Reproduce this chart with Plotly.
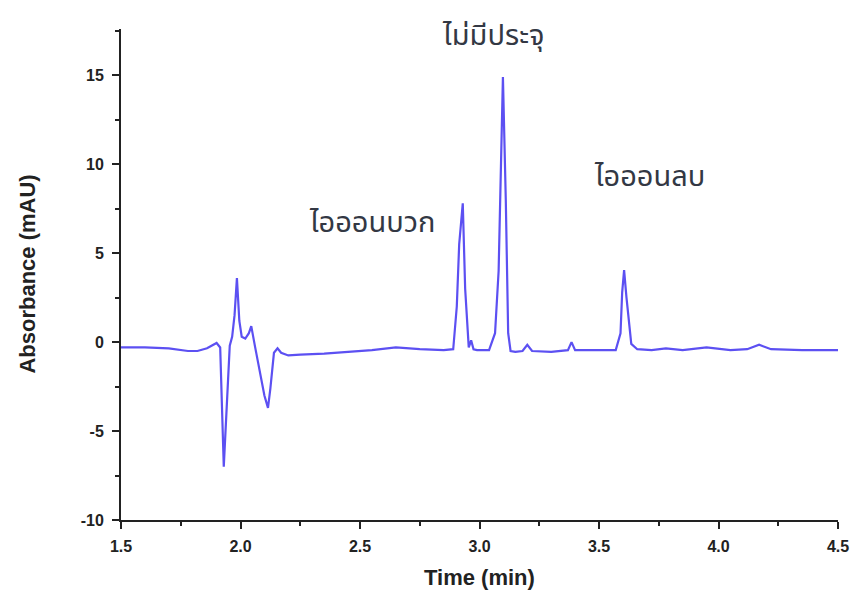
import plotly.graph_objects as go

# Electropherogram trace: time (min) vs absorbance (mAU)
time_min = [1.50, 1.60, 1.70, 1.78, 1.82, 1.86, 1.90, 1.915, 1.93, 1.945, 1.955, 1.965, 1.975,
            1.985, 1.995, 2.005, 2.02, 2.035, 2.045, 2.06, 2.08, 2.10, 2.115, 2.125, 2.14, 2.155,
            2.17, 2.20, 2.25, 2.35, 2.45, 2.55, 2.65, 2.75, 2.85, 2.89, 2.905, 2.915, 2.93, 2.94,
            2.955, 2.965, 2.975, 2.99, 3.04, 3.065, 3.08, 3.09, 3.098, 3.11, 3.12, 3.13, 3.15, 3.18,
            3.20, 3.22, 3.30, 3.37, 3.385, 3.40, 3.50, 3.57, 3.59, 3.597, 3.605, 3.615, 3.635, 3.66,
            3.72, 3.78, 3.85, 3.95, 4.05, 4.12, 4.17, 4.22, 4.35, 4.50]
absorbance = [-0.30, -0.30, -0.35, -0.50, -0.50, -0.35, -0.05, -0.3, -7.0, -2.5, -0.2, 0.3, 1.5,
              3.6, 1.2, 0.3, 0.2, 0.5, 0.9, -0.2, -1.6, -3.0, -3.7, -2.6, -0.6, -0.35,
              -0.6, -0.75, -0.7, -0.65, -0.55, -0.45, -0.3, -0.4, -0.45, -0.4, 2.0, 5.5, 7.8, 3.0,
              -0.3, 0.1, -0.4, -0.45, -0.45, 0.5, 4.0, 9.5, 14.9, 8.0, 0.5, -0.5, -0.55, -0.5,
              -0.15, -0.5, -0.55, -0.45, 0.0, -0.45, -0.45, -0.45, 0.5, 2.8, 4.05, 2.5, -0.1, -0.4,
              -0.45, -0.35, -0.45, -0.3, -0.45, -0.4, -0.15, -0.4, -0.45, -0.45]

# Peak labels
peak_labels = ["ไอออนบวก", "ไม่มีประจุ", "ไอออนลบ"]
label_x = [2.55, 3.056, 3.71]
label_y = [6.7, 17.2, 9.3]

x_ticks = [1.5, 2.0, 2.5, 3.0, 3.5, 4.0, 4.5]
y_ticks = [-10, -5, 0, 5, 10, 15]

tick_font = dict(family="Liberation Sans, Arial, sans-serif", size=16, color="#222222")
title_font = dict(family="Liberation Sans, Arial, sans-serif", size=22, color="#222222")

fig = go.Figure()
fig.add_trace(go.Scatter(x=time_min, y=absorbance, mode="lines",
                         line=dict(color="#5c50f2", width=2.2), showlegend=False))

for txt, lx, ly in zip(peak_labels, label_x, label_y):
    fig.add_annotation(x=lx, y=ly, xref="x", yref="y", text=txt, showarrow=False,
                       font=dict(family="Noto Sans Thai, Noto Sans, Tahoma, sans-serif",
                                 size=29, color="#333844"))

# Axis titles
fig.add_annotation(x=-0.131, y=0.5, xref="paper", yref="paper", text="<b>Absorbance (mAU)</b>",
                   textangle=-90, showarrow=False, xanchor="center", yanchor="middle",
                   font=title_font)
fig.add_annotation(x=0.5, y=-0.118, xref="paper", yref="paper", text="<b>Time (min)</b>",
                   showarrow=False, xanchor="center", yanchor="middle", font=title_font)

axis_common = dict(showline=True, linecolor="#222222", linewidth=2, ticks="outside",
                   tickcolor="#222222", tickwidth=2, ticklen=7, showgrid=False,
                   zeroline=False, mirror=False, automargin=False)

fig.update_xaxes(range=[1.5, 4.5], tickvals=x_ticks,
                 ticktext=[f"<b>{v:.1f}</b>" for v in x_ticks], tickfont=tick_font,
                 ticklabelstandoff=4,
                 minor=dict(dtick=0.25, ticks="outside", ticklen=4, tickcolor="#222222", tickwidth=2),
                 **axis_common)
fig.update_yaxes(range=[-10, 17.6], tickvals=y_ticks,
                 ticktext=[f"<b>{v}</b>" for v in y_ticks], tickfont=tick_font,
                 ticklabelstandoff=5,
                 minor=dict(dtick=2.5, ticks="outside", ticklen=4, tickcolor="#222222", tickwidth=2),
                 **axis_common)

fig.update_layout(width=850, height=593, margin=dict(l=121, r=12, t=29, b=73),
                  paper_bgcolor="white", plot_bgcolor="white")

fig.write_html("out.html")
